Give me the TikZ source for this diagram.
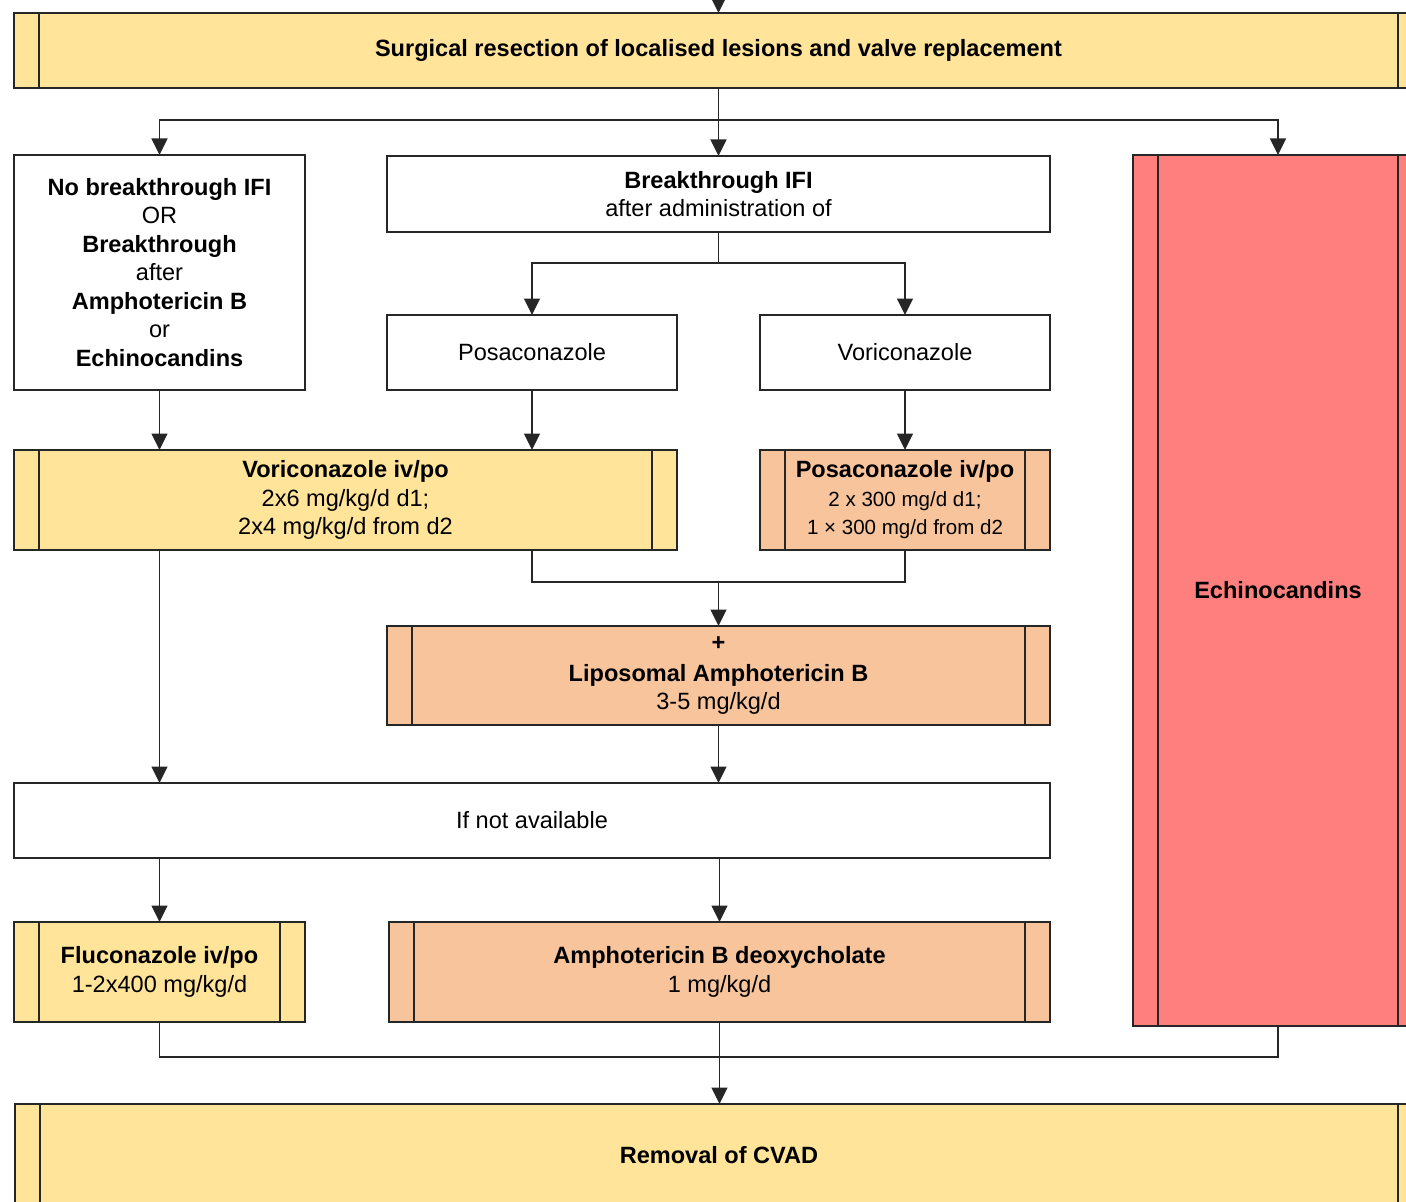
\documentclass[tikz,border=0pt]{standalone}
\usepackage{fontspec}
\setmainfont{Liberation Sans}
\usepackage{xcolor}
\usepackage{tikz}
\usetikzlibrary{arrows.meta, positioning}

\definecolor{drugyellow}{HTML}{FFE499}
\definecolor{drugorange}{HTML}{F8C49C}
\definecolor{drugred}{HTML}{FF7F7F}
\newcommand{\smallfnt}{\fontsize{11.7}{14}\selectfont}

\begin{document}
\begin{tikzpicture}[x=0.02cm, y=-0.02cm,
    box/.style={draw=black!85, line width=1pt, inner sep=0pt, outer sep=0pt, align=center, font=\fontsize{13.4}{16.2}\selectfont},
    sz/.style 2 args={minimum width=#1*0.02cm, minimum height=#2*0.02cm},
    proc/.style={box, path picture={
        \draw[black!85, line width=1pt] ([xshift=0.5cm]path picture bounding box.north west) -- ([xshift=0.5cm]path picture bounding box.south west);
        \draw[black!85, line width=1pt] ([xshift=-0.5cm]path picture bounding box.north east) -- ([xshift=-0.5cm]path picture bounding box.south east);}},
    link/.style={draw=black!85, line width=1pt},
    arr/.style={link, -{Triangle[length=0.33cm, width=0.32cm]}}]
    \useasboundingbox (0,0) rectangle (1406,1202);
    \clip (0,0) rectangle (1406,1202);

    \node[proc, sz={1409}{75}, fill=drugyellow] (top) at (718.5,50.5) {\textbf{Surgical resection of localised lesions and valve replacement}};
    \node[box, sz={291}{235}] (nobt) at (159.5,272.5) {\textbf{No breakthrough IFI}\\OR\\\textbf{Breakthrough}\\after\\\textbf{Amphotericin B}\\or\\\textbf{Echinocandins}};
    \node[box, sz={663}{76}] (btifi) at (718.5,194) {\textbf{Breakthrough IFI}\\after administration of};
    \node[box, sz={290}{75}] (posa) at (532,352.5) {Posaconazole};
    \node[box, sz={290}{75}] (vori) at (905,352.5) {Voriconazole};
    \node[proc, sz={663}{100}, fill=drugyellow] (voriiv) at (345.5,500) {\textbf{Voriconazole iv/po}\\2x6 mg/kg/d d1;\\2x4 mg/kg/d from d2};
    \node[proc, sz={290}{100}, fill=drugorange] (posaiv) at (905,500) {\textbf{Posaconazole iv/po}\\{\smallfnt 2 x 300 mg/d d1;}\\{\smallfnt 1 × 300 mg/d from d2}};
    \node[proc, sz={663}{99}, fill=drugorange] (lamb) at (718.5,675.5) {\textbf{+}\\[1.7pt]\textbf{Liposomal Amphotericin B}\\3-5 mg/kg/d};
    \node[box, sz={1036}{75}] (notavail) at (532,820.5) {If not available};
    \node[proc, sz={291}{100}, fill=drugyellow] (fluco) at (159.5,972) {\textbf{Fluconazole iv/po}\\1-2x400 mg/kg/d};
    \node[proc, sz={661}{100}, fill=drugorange] (amphod) at (719.5,972) {\textbf{Amphotericin B deoxycholate}\\1 mg/kg/d};
    \node[proc, sz={290}{871}, fill=drugred] (echino) at (1278,590.5) {\textbf{Echinocandins}};
    \node[proc, sz={1408}{102}, fill=drugyellow] (cvad) at (719,1155) {\textbf{Removal of CVAD}};

    \coordinate (entry) at (718.5,-5);
    \coordinate (split) at (718.5,120);
    \coordinate (join) at (718.5,582);
    \coordinate (merge) at (719.5,1057);

    % top level
    \draw[arr] (entry) -- (top);
    \draw[arr] (top) -- (btifi);
    \draw[arr] (split) -| (nobt.north);
    \draw[arr] (split) -| (echino.north);

    % breakthrough branch
    \draw[arr] (btifi.south) -- ++(0,31) -| (posa.north);
    \draw[arr] (btifi.south) -- ++(0,31) -| (vori.north);
    \draw[arr] (nobt.south) -- (nobt.south |- voriiv.north);
    \draw[arr] (posa.south) -- (posa.south |- voriiv.north);
    \draw[arr] (vori.south) -- (posaiv.north);
    \draw[link] (posa.south |- voriiv.south) |- (join) -| (posaiv.south);
    \draw[arr] (join) -- (lamb.north);

    % fallback
    \draw[arr] (nobt.south |- voriiv.south) -- (nobt.south |- notavail.north);
    \draw[arr] (lamb.south) -- (lamb.south |- notavail.north);
    \draw[arr] (fluco.north |- notavail.south) -- (fluco.north);
    \draw[arr] (amphod.north |- notavail.south) -- (amphod.north);

    % bottom
    \draw[link] (fluco.south) |- (merge) -| (echino.south);
    \draw[arr] (amphod.south) -- (cvad.north -| amphod.south);
\end{tikzpicture}
\end{document}
